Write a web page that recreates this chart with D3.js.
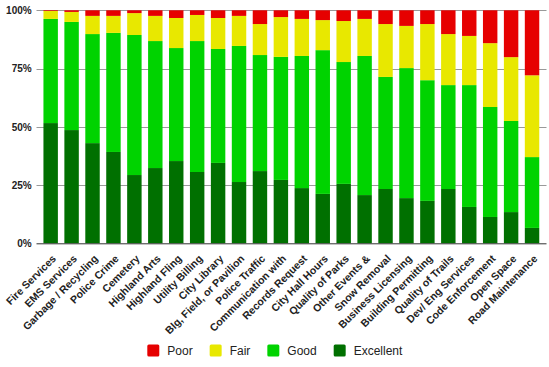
<!DOCTYPE html>
<html><head><meta charset="utf-8">
<script src="https://cdn.jsdelivr.net/npm/d3@7"></script>
<style>body{margin:0;background:#fff}svg{display:block}text{font-family:Arial,"Liberation Sans",sans-serif}</style>
</head><body><svg id="c" width="549" height="367"></svg>
<script>
const categories = ["Fire Services","EMS Services","Garbage / Recycling","Police Crime","Cemetery","Highland Arts","Highland Fling","Utility Billing","City Library","Blg, Field, or Pavilion","Police Traffic","Communication with","Records Request","City Hall Hours","Quality of Parks","Other Events &","Snow Removal","Business Licensing","Building Permitting","Quality of Trails","Dev/ Eng Services","Code Enforcement","Open Space","Road Maintenance"];
const excellent = [51.6,48.6,43.0,39.2,29.3,32.3,35.3,30.6,34.5,26.3,31.0,27.2,23.7,21.2,25.5,20.7,23.3,19.4,18.2,23.3,15.6,11.3,13.4,6.6];
const good      = [44.7,46.4,46.8,51.1,60.1,54.5,48.5,56.2,48.9,58.4,49.8,52.8,56.7,61.7,52.3,59.7,48.1,55.8,51.8,44.6,52.3,47.2,39.1,30.4];
const fair      = [3.4,4.3,7.8,7.3,9.4,10.8,12.9,11.2,13.3,12.9,13.3,17.1,15.9,12.9,17.6,15.9,22.7,18.1,24.1,21.9,21.1,27.4,27.4,35.1];
const poor      = [0.3,0.7,2.4,2.4,1.2,2.4,3.3,2.0,3.3,2.4,5.9,2.9,3.7,4.2,4.6,3.7,5.9,6.7,5.9,10.2,11.0,14.1,20.1,27.9];
const seriesNames = ["Excellent","Good","Fair","Poor"];
const legendOrder = ["Poor","Fair","Good","Excellent"];
const yTicks = [0,25,50,75,100];

const colors = {Excellent:"#007000", Good:"#00d300", Fair:"#e8e800", Poor:"#e60000"};
const svg = d3.select("#c");
const L = 36.5, R = 546.5, T = 10.3, B = 243.3;
const rows = categories.map((c,i)=>({cat:c, Excellent:excellent[i], Good:good[i], Fair:fair[i], Poor:poor[i]}));
const x = d3.scaleBand().domain(categories).range([40.2, 542.5]).paddingInner(0.31).paddingOuter(0.155);
const y = d3.scaleLinear().domain([0,100]).range([B,T]);

// gridlines
svg.append("g").selectAll("line").data(yTicks.filter(t=>t>0)).join("line")
  .attr("x1",L).attr("x2",R).attr("y1",d=>Math.round(y(d))+0.5).attr("y2",d=>Math.round(y(d))+0.5)
  .attr("stroke","#999").attr("stroke-width",1);

const stack = d3.stack().keys(seriesNames).offset(d3.stackOffsetExpand);
const layers = stack(rows);
svg.append("g").selectAll("g").data(layers).join("g").attr("fill",d=>colors[d.key])
  .selectAll("rect").data(d=>d).join("rect")
  .attr("x",d=>x(d.data.cat)).attr("width",x.bandwidth())
  .attr("y",d=>y(d[1]*100)).attr("height",d=>y(d[0]*100)-y(d[1]*100));

// axis baseline
svg.append("line").attr("x1",L).attr("x2",R).attr("y1",B+0.5).attr("y2",B+0.5).attr("stroke","#333").attr("stroke-width",1);

// y labels
const yAxis = d3.axisLeft(y).tickValues(yTicks).tickFormat(d=>d+"%").tickSize(0).tickPadding(0);
const yg = svg.append("g").attr("transform",`translate(${31.7},0)`).call(yAxis);
yg.select(".domain").remove();
yg.selectAll("text").attr("font-size",10).attr("font-weight","bold").attr("fill","#222")
  .attr("font-family","Arial, 'Liberation Sans', sans-serif");

// x labels
const xAxis = d3.axisBottom(x).tickSize(0).tickPadding(0);
const xg = svg.append("g").attr("transform",`translate(0,${B})`).call(xAxis);
xg.select(".domain").remove();
xg.selectAll("text").attr("font-size",10.5).attr("font-weight","bold").attr("fill","#222")
  .attr("font-family","Arial, 'Liberation Sans', sans-serif")
  .attr("text-anchor","end").attr("dy",null).attr("y",null)
  .attr("transform","translate(6,16) rotate(-45)");

// legend
const lg = svg.append("g");
let lx = 147.3;
legendOrder.forEach(k=>{
  lg.append("rect").attr("x",lx).attr("y",344.5).attr("width",12).attr("height",12).attr("rx",1.5).attr("fill",colors[k]);
  const t = lg.append("text").attr("x",lx+20).attr("y",355).attr("font-size",12).attr("fill","#222").text(k);
  lx += 20 + t.node().getComputedTextLength() + 17;
});
</script></body></html>
